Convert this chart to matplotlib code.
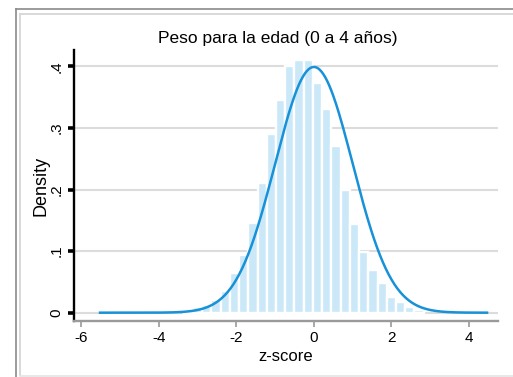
import numpy as np
import matplotlib
matplotlib.use("Agg")
import matplotlib.pyplot as plt
from matplotlib.lines import Line2D

# histogram bins (centers in z-score units) and densities
bin_width = 0.238
bin_centers = [-3.238, -3.0, -2.762, -2.524, -2.286, -2.048, -1.81, -1.572,
               -1.334, -1.096, -0.858, -0.62, -0.382, -0.144, 0.094, 0.332,
               0.57, 0.808, 1.046, 1.284, 1.522, 1.76, 1.998, 2.236, 2.474,
               2.712]
densities = [0.004, 0.0097, 0.0125, 0.021, 0.036, 0.064, 0.094, 0.146,
             0.21, 0.29, 0.345, 0.40, 0.411, 0.411, 0.373, 0.33, 0.27,
             0.20, 0.144, 0.098, 0.070, 0.049, 0.026, 0.017, 0.0097, 0.004]

# normal overlay parameters
mu, sd = 0.0, 1.0
z_min, z_max = -5.55, 4.5

xticks = [-6, -4, -2, 0, 2, 4]
yticks = [0, 0.1, 0.2, 0.3, 0.4]
ytick_labels = ["0", ".1", ".2", ".3", ".4"]

W, H = 513, 377
fig = plt.figure(figsize=(W / 100, H / 100), dpi=100)
fig.patch.set_facecolor("white")
plt.rcParams["font.family"] = ["Liberation Sans", "DejaVu Sans"]

# screenshot frame lines
def fline(xs, ys, color, lw):
    fig.add_artist(Line2D([x / W for x in xs], [1 - y / H for y in ys],
                          color=color, lw=lw, transform=fig.transFigure))

fline([15.5, 15.5], [8.5, 377], "#8a8a8a", 1.2)
fline([15.5, 513], [8.5, 8.5], "#8a8a8a", 1.2)
fline([20, 20], [13.5, 375], "#d8d8d8", 1.4)
fline([20, 513], [13.5, 13.5], "#d8d8d8", 1.4)
fline([20, 513], [375.5, 375.5], "#e4e4e4", 1.2)

ax = fig.add_axes([74 / W, 56 / H, (498 - 74) / W, (321 - 50) / H])
ax.set_facecolor("white")

ax.set_xlim(-6.19, 4.75)
ax.set_ylim(-0.0135, 0.4265)

for y in yticks:
    ax.axhline(y, color="#dcdcdc", lw=1.5, zorder=0)

ax.bar(bin_centers, densities, width=bin_width, color="#cbe8f8",
       edgecolor="white", linewidth=1.7, zorder=2)

z = np.linspace(z_min, z_max, 400)
pdf = np.exp(-0.5 * ((z - mu) / sd) ** 2) / (sd * np.sqrt(2 * np.pi))
ax.plot(z, pdf, color="#1791d8", lw=1.8, zorder=3, solid_capstyle="butt")

for s in ["top", "right"]:
    ax.spines[s].set_visible(False)
ax.spines["left"].set_color("black")
ax.spines["left"].set_linewidth(1.7)
ax.spines["bottom"].set_color("#9a9a9a")
ax.spines["bottom"].set_linewidth(1.7)

ax.set_xticks(xticks)
ax.set_xticklabels([str(t) for t in xticks])
ax.set_yticks(yticks)
ax.set_yticklabels(ytick_labels, rotation=90, va="center")
ax.tick_params(axis="y", length=4.5, width=2.6, color="black", pad=3,
               labelsize=11)
ax.tick_params(axis="x", length=4, width=1.2, color="#9a9a9a", pad=3,
               labelsize=11)

ax.set_xlabel("z-score", fontsize=12, labelpad=3)
ax.set_ylabel("Density", fontsize=13, labelpad=0)
ax.set_title("Peso para la edad (0 a 4 años)", fontsize=12.5, pad=5,
             x=0.481)

fig.savefig("out.png", dpi=100)
